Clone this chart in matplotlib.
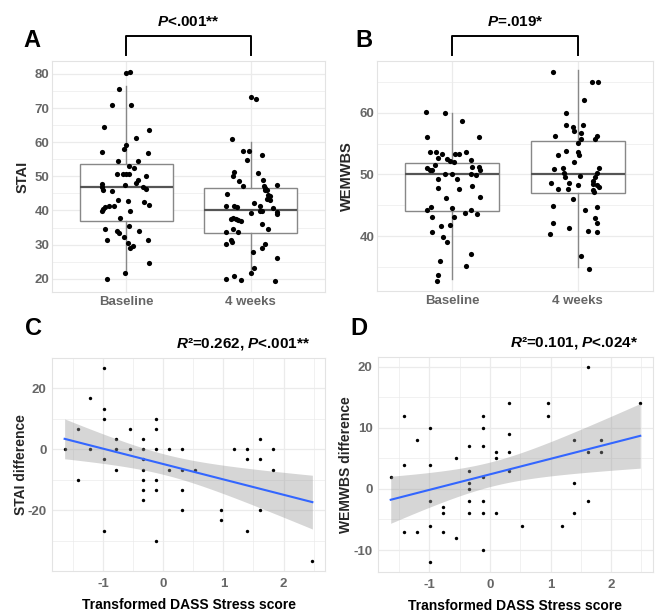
import matplotlib
matplotlib.use('Agg')
import matplotlib.pyplot as plt
import matplotlib.transforms as mtransforms
from matplotlib.ticker import MultipleLocator
import numpy as np

plt.rcParams['font.family'] = ['Liberation Sans', 'DejaVu Sans']
plt.rcParams['axes.unicode_minus'] = False
plt.rcParams['mathtext.fontset'] = 'custom'
plt.rcParams['mathtext.rm'] = 'Liberation Sans:bold'
plt.rcParams['mathtext.bf'] = 'Liberation Sans:bold'
plt.rcParams['mathtext.it'] = 'Liberation Sans:bold:italic'
plt.rcParams['mathtext.bfit'] = 'Liberation Sans:bold:italic'

# ---- panel A / B : box plots with jittered points ----
groups = ['Baseline', '4 weeks']

stai_base = [80.7, 80.2, 75.7, 70.8, 70.8, 64.5, 63.6, 61.3, 59.2, 57.9, 57.2, 56.8, 54.4, 54.5,
             52.9, 52.4, 50.7, 50.7, 50.7, 50.7, 50.0, 48.8, 48.1, 47.7, 46.8, 45.9, 45.8, 47.4,
             46.8, 46.2, 43.1, 42.7, 42.6, 41.5, 41.3, 41.2, 41.0, 40.3, 39.8, 39.8, 37.9, 35.5,
             34.6, 34.1, 33.4, 33.9, 32.2, 31.4, 31.3, 30.6, 29.6, 29.1, 24.6, 21.6, 20.0]
stai_base_jit = [0.03, 0.0, -0.06, -0.12, 0.04, -0.18, 0.18, 0.08, 0.0, -0.02, -0.20, 0.17, -0.07, 0.09,
                 0.02, 0.06, -0.08, -0.03, 0.0, 0.02, 0.16, 0.09, 0.08, -0.20, -0.20, -0.19, -0.12, -0.01,
                 0.13, 0.16, -0.07, 0.01, 0.14, 0.18, -0.10, -0.14, -0.17, -0.19, -0.20, 0.03, -0.05, 0.02,
                 -0.17, -0.08, -0.06, 0.10, -0.02, -0.16, 0.17, 0.01, 0.05, 0.03, 0.18, -0.01, -0.16]
stai_4wk = [73.3, 72.6, 60.9, 57.4, 57.3, 56.3, 54.7, 51.2, 50.2, 50.9, 48.7, 48.8, 47.1, 47.6,
            47.2, 46.5, 46.1, 45.9, 44.6, 44.2, 43.2, 43.5, 44.7, 42.2, 41.4, 41.4, 41.4, 41.0,
            40.8, 39.3, 39.8, 39.7, 39.6, 39.1, 37.6, 37.8, 37.6, 37.3, 36.9, 36.0, 34.7, 34.7,
            33.7, 33.6, 31.3, 30.8, 30.3, 30.2, 29.1, 27.8, 26.2, 23.1, 21.6, 20.8, 19.8, 19.6, 19.2]
stai_4wk_jit = [0.0, 0.04, -0.15, -0.06, -0.01, 0.09, -0.03, -0.13, -0.14, 0.06, -0.09, 0.10, -0.06, 0.21,
                0.11, 0.12, 0.13, 0.12, 0.14, 0.16, 0.16, 0.13, -0.19, 0.03, 0.08, -0.20, -0.13, -0.11,
                0.18, 0.0, 0.08, 0.09, 0.21, 0.21, -0.16, -0.14, -0.12, -0.10, -0.08, 0.09, -0.14, 0.14,
                -0.20, -0.10, -0.16, -0.15, -0.20, 0.12, 0.09, 0.02, 0.21, 0.03, 0.0, -0.13, -0.20, -0.08, 0.20]

wem_base = [60.2, 60.0, 58.6, 56.1, 56.1, 53.6, 53.7, 53.3, 53.3, 53.3, 53.7, 52.6, 52.5, 52.2,
            52.0, 52.3, 51.6, 51.0, 50.7, 50.8, 51.2, 51.2, 50.8, 50.0, 50.0, 50.1, 49.9, 49.2,
            49.2, 47.8, 47.6, 48.2, 46.2, 46.3, 44.2, 44.7, 44.6, 43.8, 44.3, 43.6, 43.1, 43.1,
            41.8, 41.6, 40.6, 39.9, 39.1, 37.1, 35.9, 35.2, 33.7, 32.8]
wem_base_jit = [-0.21, -0.06, 0.08, -0.20, 0.21, -0.18, -0.13, -0.08, 0.02, 0.05, 0.11, -0.11, -0.04, -0.02,
                0.01, 0.15, -0.14, -0.20, -0.18, -0.16, 0.16, 0.21, 0.22, -0.06, 0.0, 0.15, 0.19, -0.11,
                0.04, -0.11, 0.05, 0.16, -0.05, 0.22, -0.20, -0.17, 0.0, 0.10, 0.15, 0.20, -0.16, 0.01,
                -0.02, -0.09, -0.16, -0.07, -0.04, 0.15, -0.10, 0.11, -0.11, -0.12]
wem_4wk = [66.6, 65.0, 65.0, 62.0, 60.0, 58.0, 57.7, 57.1, 58.1, 56.7, 55.8, 56.2, 56.2, 55.7,
           55.1, 53.8, 53.7, 53.2, 53.1, 52.0, 50.9, 51.1, 51.0, 50.2, 49.6, 49.8, 50.2, 49.6,
           48.6, 48.6, 48.3, 48.9, 48.4, 48.3, 48.0, 47.7, 47.7, 47.4, 47.2, 46.1, 44.9, 44.3,
           44.8, 43.0, 42.1, 42.2, 41.3, 40.9, 40.7, 40.3, 36.7, 34.7]
wem_4wk_jit = [-0.20, 0.11, 0.16, 0.05, -0.09, -0.09, -0.04, -0.03, 0.04, 0.03, 0.03, -0.18, 0.15, 0.14,
               0.0, -0.09, 0.0, 0.01, -0.16, -0.03, -0.19, -0.12, 0.17, -0.11, -0.10, 0.02, 0.15, 0.14,
               -0.21, -0.07, 0.0, 0.12, 0.12, 0.15, 0.17, -0.16, -0.08, 0.12, 0.13, -0.04, -0.20, 0.06,
               0.15, 0.14, 0.15, -0.20, -0.07, 0.08, 0.15, -0.22, 0.03, 0.09]

# box statistics: q1, median, q3, lower whisker, upper whisker
stai_box = [[36.8, 46.8, 53.5, 21.5, 76.5], [33.5, 40.0, 46.7, 21.6, 60.0]]
wem_box = [[44.0, 50.0, 51.9, 33.1, 59.9], [47.0, 50.0, 55.4, 35.0, 66.9]]

# ---- panel C / D : DASS stress vs change scores ----
dass_c = [-1.64, -1.42, -1.42, -1.21, -1.21, -0.99, -0.99, -0.99, -0.99, -0.99,
          -0.78, -0.78, -0.78, -0.56, -0.56, -0.34, -0.34, -0.34, -0.34, -0.34, -0.34, -0.34,
          -0.12, -0.12, -0.12, -0.12, -0.12, -0.12, 0.09, 0.09, 0.31, 0.31, 0.31, 0.31, 0.52,
          0.96, 0.96, 1.18, 1.39, 1.39, 1.39, 1.61, 1.61, 1.61, 1.83, 1.83, 2.48]
stai_diff = [0, 6.7, -10, 16.7, 0, 26.7, 13.3, 10, -3.3, -26.7,
             3.3, 0, -6.7, 6.7, 0, 3.3, 0, -3.3, -6.7, -10, -13.3, -16.7,
             10, 6.7, 0, -10, -13.3, -30, 0, -6.7, 0, -6.7, -13.3, -20, -6.7,
             -20, -23.3, 0, 0, -3.3, -26.7, 3.3, -3.3, -20, 0, -6.7, -36.7]

dass_d = [-1.64, -1.42, -1.42, -1.42, -1.21, -1.21, -0.99, -0.99, -0.99, -0.99, -0.99,
          -0.78, -0.78, -0.78, -0.56, -0.56, -0.34, -0.34, -0.34, -0.34, -0.34, -0.34,
          -0.12, -0.12, -0.12, -0.12, -0.12, -0.12, -0.12, 0.09, 0.09, 0.09,
          0.31, 0.31, 0.31, 0.31, 0.52, 0.96, 0.96, 1.18, 1.39, 1.39, 1.39,
          1.61, 1.61, 1.61, 1.83, 1.83, 2.48]
wem_diff = [2, 12, 4, -7, 8, -7, 10, 4, -2, -6, -12,
            -3, -4, -7, 5, -8, 7, 3, 1, 0, -2, -4,
            12, 10, 7, 2, -2, -4, -10, 6, 5, -4,
            14, 9, 6, 3, -6, 14, 12, -6, 8, 1, -4,
            20, 6, -2, 8, 6, 14]

TICK_COL = '#666666'
TITLE_COL = '#262626'
GRID_COL = '#ebebeb'


def style_axes(ax):
    ax.set_facecolor('white')
    ax.grid(True, which='major', color=GRID_COL, lw=0.9, zorder=0)
    ax.grid(True, which='minor', color=GRID_COL, lw=0.5, zorder=0)
    ax.set_axisbelow(True)
    for s in ax.spines.values():
        s.set_color('#e3e3e3')
        s.set_linewidth(0.8)
    ax.tick_params(which='both', length=0, labelsize=9.5, labelcolor=TICK_COL)
    for lab in ax.get_xticklabels() + ax.get_yticklabels():
        lab.set_fontweight('bold')


def box_panel(ax, box, base, base_jit, wk, wk_jit, ylabel, major, minor, ylim, ptext, label_x):
    stats = []
    for b, lab in zip(box, groups):
        stats.append(dict(q1=b[0], med=b[1], q3=b[2], whislo=b[3], whishi=b[4], label=lab))
    ax.bxp(stats, positions=[1, 2], widths=0.75, showfliers=False, showcaps=False,
           patch_artist=True,
           boxprops=dict(facecolor='white', edgecolor='#888888', lw=1.0),
           whiskerprops=dict(color='#888888', lw=1.0),
           medianprops=dict(color='#555555', lw=1.6), zorder=2)
    ax.scatter(1 + np.array(base_jit), base, s=14, color='black', zorder=3, lw=0)
    ax.scatter(2 + np.array(wk_jit), wk, s=14, color='black', zorder=3, lw=0)
    ax.set_xlim(0.4, 2.6)
    ax.set_ylim(*ylim)
    ax.yaxis.set_major_locator(MultipleLocator(major))
    ax.yaxis.set_minor_locator(MultipleLocator(minor))
    ax.set_xticks([1, 2], groups)
    ax.set_ylabel(ylabel, fontsize=10.5, fontweight='bold', color=TITLE_COL)
    ax.yaxis.set_label_coords(label_x, 0.5)
    ax.tick_params(axis='x', pad=3)
    ax.tick_params(axis='y', pad=2)
    style_axes(ax)
    # significance bracket
    tr = mtransforms.blended_transform_factory(ax.transData, ax.transAxes)
    ax.plot([1, 1, 2, 2], [1.026, 1.108, 1.108, 1.026], color='black', lw=1.4,
            transform=tr, clip_on=False)
    ax.text(1.5, 1.14, ptext, transform=tr, ha='center', va='bottom', fontsize=11,
            fontweight='bold', color='black')


def scatter_panel(ax, x, y, ylabel, ymajor, yminor, stext, label_x):
    x = np.array(x, dtype=float)
    y = np.array(y, dtype=float)
    ax.scatter(x, y, s=6, color='black', lw=0, zorder=3)
    # linear fit with 95% confidence band
    slope, icpt = np.polyfit(x, y, 1)
    xs = np.linspace(x.min(), x.max(), 100)
    n = len(x)
    resid = y - (slope * x + icpt)
    s_err = np.sqrt(np.sum(resid ** 2) / (n - 2))
    se = s_err * np.sqrt(1 / n + (xs - x.mean()) ** 2 / np.sum((x - x.mean()) ** 2))
    fit = slope * xs + icpt
    ax.fill_between(xs, fit - 2.01 * se, fit + 2.01 * se, color='#999999', alpha=0.4, lw=0, zorder=4)
    ax.plot(xs, fit, color='#3366ff', lw=1.5, zorder=5)
    ax.set_xlim(-1.85, 2.69)
    ax.xaxis.set_major_locator(MultipleLocator(1))
    ax.xaxis.set_minor_locator(MultipleLocator(0.5))
    ax.yaxis.set_major_locator(MultipleLocator(ymajor))
    ax.yaxis.set_minor_locator(MultipleLocator(yminor))
    ax.set_xlabel('Transformed DASS Stress score', fontsize=10, fontweight='bold',
                  color='black', labelpad=6)
    ax.set_ylabel(ylabel, fontsize=10, fontweight='bold', color=TITLE_COL)
    ax.yaxis.set_label_coords(label_x, 0.5)
    ax.tick_params(axis='x', pad=5)
    ax.tick_params(axis='y', pad=4)
    style_axes(ax)
    ax.text(1.0 - 15 / 273, 1.03, stext, transform=ax.transAxes, ha='right', va='bottom',
            fontsize=11, fontweight='bold', color='black')


fig = plt.figure(figsize=(6.66, 6.14), dpi=100)
fig.patch.set_facecolor('white')

axA = fig.add_axes([52 / 666, 1 - 292 / 614, 273 / 666, 231 / 614])
axB = fig.add_axes([377 / 666, 1 - 291 / 614, 276 / 666, 230 / 614])
axC = fig.add_axes([52 / 666, 1 - 571 / 614, 273 / 666, 213 / 614])
axD = fig.add_axes([378 / 666, 1 - 572 / 614, 275 / 666, 215 / 614])

box_panel(axA, stai_box, stai_base, stai_base_jit, stai_4wk, stai_4wk_jit,
          'STAI', 10, 5, (16.1, 83.8), r'$\mathbfit{P}$<.001**', -0.081)
box_panel(axB, wem_box, wem_base, wem_base_jit, wem_4wk, wem_4wk_jit,
          'WEMWBS', 10, 5, (31.1, 68.4), r'$\mathbfit{P}$=.019*', -0.083)

scatter_panel(axC, dass_c, stai_diff, 'STAI difference', 20, 10,
              r'$\mathbfit{R}$²=0.262, $\mathbfit{P}$<.001**', -0.088)
axC.set_ylim(-39.9, 29.9)
scatter_panel(axD, dass_d, wem_diff, 'WEMWBS difference', 10, 5,
              r'$\mathbfit{R}$²=0.101, $\mathbfit{P}$<.024*', -0.091)
axD.set_ylim(-13.6, 21.6)

for lab, x, y in [('A', 23, 47), ('B', 355, 47), ('C', 25, 335), ('D', 350, 335)]:
    fig.text(x / 666, 1 - y / 614, lab, fontsize=17, fontweight='bold', ha='left', va='baseline')

fig.savefig('out.png', dpi=100, facecolor='white')
